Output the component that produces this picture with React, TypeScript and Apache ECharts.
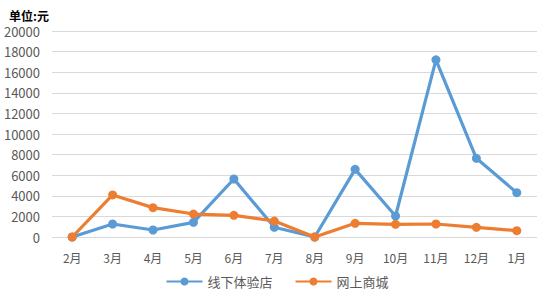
import React, { useEffect, useRef } from "react";
import * as echarts from "echarts";

const months = ["2月", "3月", "4月", "5月", "6月", "7月", "8月", "9月", "10月", "11月", "12月", "1月"];
const offlineStore = [0, 1260, 680, 1420, 5630, 940, 0, 6570, 2040, 17200, 7640, 4300];
const onlineMall = [0, 4080, 2850, 2230, 2100, 1550, 0, 1330, 1230, 1260, 940, 610];
const seriesNames = ["线下体验店", "网上商城"];

export default function App() {
  const ref = useRef<HTMLDivElement>(null);
  useEffect(() => {
    if (!ref.current) return;
    const chart = echarts.init(ref.current, undefined, { renderer: "svg" });
    const font = "'Microsoft YaHei', 'Noto Sans CJK SC', sans-serif";
    chart.setOption({
      animation: false,
      backgroundColor: "#fff",
      title: {
        text: "单位:元",
        left: 4,
        top: 4,
        textStyle: { fontSize: 12, fontWeight: "bold", color: "#000", fontFamily: font },
      },
      grid: { left: 52, right: 17, top: 31, bottom: 61 },
      legend: {
        bottom: 5,
        left: "center",
        itemWidth: 36,
        itemHeight: 10,
        itemGap: 22,
        textStyle: { fontSize: 13, color: "#595959", fontFamily: font },
        data: seriesNames,
      },
      xAxis: {
        type: "category",
        data: months,
        boundaryGap: true,
        axisLine: { show: false },
        axisTick: { show: false },
        axisLabel: { color: "#595959", fontSize: 12, margin: 14, fontFamily: font },
      },
      yAxis: {
        type: "value",
        min: 0,
        max: 20000,
        interval: 2000,
        axisLine: { show: false },
        axisTick: { show: false },
        axisLabel: {
          color: "#595959",
          fontSize: 13,
          margin: 12,
          fontFamily: font,
          formatter: (v: number) => String(v),
        },
        splitLine: { lineStyle: { color: "#d9d9d9", width: 1 } },
      },
      series: [
        {
          name: seriesNames[0],
          type: "line",
          data: offlineStore,
          symbol: "circle",
          symbolSize: 9,
          lineStyle: { width: 3.2, color: "#5B9BD5" },
          itemStyle: { color: "#5B9BD5" },
          z: 2,
        },
        {
          name: seriesNames[1],
          type: "line",
          data: onlineMall,
          symbol: "circle",
          symbolSize: 9,
          lineStyle: { width: 3.2, color: "#ED7D31" },
          itemStyle: { color: "#ED7D31" },
          z: 3,
        },
      ],
    });
    return () => chart.dispose();
  }, []);
  return <div ref={ref} style={{ width: 554, height: 298, position: "absolute", left: 0, top: 0 }} />;
}
